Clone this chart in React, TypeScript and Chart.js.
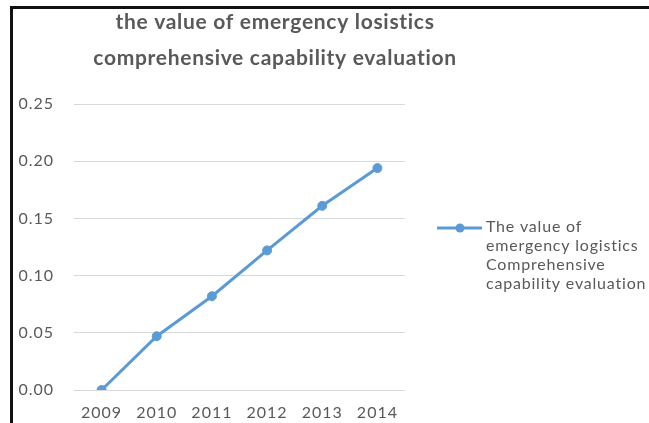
import React, { useEffect, useRef } from "react";
import { Chart, registerables } from "chart.js";

Chart.register(...registerables);

// ---- data ----
const years: string[] = ["2009", "2010", "2011", "2012", "2013", "2014"];
const values: number[] = [0.0, 0.047, 0.082, 0.122, 0.161, 0.194];
const yTickValues: number[] = [0, 0.05, 0.1, 0.15, 0.2, 0.25];
const titleLines: string[] = [
  "the value of emergency losistics",
  "comprehensive capability evaluation",
];
const legendLines: string[] = [
  "The value of",
  "emergency logistics",
  "Comprehensive",
  "capability evaluation",
];

const BLUE = "#5b9bd5";
const TEXT = "#595959";
const GRID = "#d9d9d9";
const FONT = "Lato, 'Open Sans', sans-serif";

const spacingPlugin = {
  id: "spacing",
  beforeDraw(chart: any) {
    (chart.ctx as any).letterSpacing = "1px";
  },
};

const decorPlugin = {
  id: "decor",
  afterDraw(chart: any) {
    const ctx = chart.ctx as any;
    ctx.save();
    // title
    ctx.fillStyle = TEXT;
    ctx.font = `bold 21px ${FONT}`;
    ctx.letterSpacing = "0.7px";
    ctx.textAlign = "center";
    ctx.textBaseline = "alphabetic";
    const titleX = 275;
    titleLines.forEach((t, i) => ctx.fillText(t, titleX, 29 + i * 36));

    // legend
    const ly = 228;
    ctx.strokeStyle = BLUE;
    ctx.lineWidth = 3;
    ctx.beginPath();
    ctx.moveTo(437, ly);
    ctx.lineTo(482, ly);
    ctx.stroke();
    ctx.fillStyle = BLUE;
    ctx.beginPath();
    ctx.arc(460, ly, 4.5, 0, Math.PI * 2);
    ctx.fill();

    ctx.fillStyle = TEXT;
    ctx.font = `16px ${FONT}`;
    ctx.letterSpacing = "0.8px";
    ctx.textAlign = "left";
    legendLines.forEach((t, i) => ctx.fillText(t, 486, 232 + i * 19));
    ctx.restore();
  },
};

export default function App() {
  const ref = useRef<HTMLCanvasElement | null>(null);

  useEffect(() => {
    if (!ref.current) return;
    const chart = new Chart(ref.current, {
      type: "line",
      data: {
        labels: years,
        datasets: [
          {
            label: legendLines.join(" "),
            data: values,
            borderColor: BLUE,
            backgroundColor: BLUE,
            borderWidth: 3,
            pointRadius: 4.5,
            pointBorderWidth: 1,
            pointBackgroundColor: BLUE,
            pointBorderColor: BLUE,
            tension: 0,
          },
        ],
      },
      options: {
        responsive: false,
        animation: false,
        layout: { padding: { left: 0, right: 244, top: 104, bottom: 0 } },
        plugins: {
          legend: { display: false },
          title: { display: false },
          tooltip: { enabled: false },
        },
        scales: {
          x: {
            offset: true,
            grid: { display: false, drawTicks: false },
            border: { display: false },
            ticks: {
              color: TEXT,
              font: { family: FONT, size: 16 },
              padding: 13,
              maxRotation: 0,
            },
            afterFit: (s: any) => {
              s.height = 33;
            },
          },
          y: {
            min: 0,
            max: 0.25,
            afterBuildTicks: (s: any) => {
              s.ticks = yTickValues.map((v) => ({ value: v }));
            },
            grid: { color: GRID, lineWidth: 1, drawTicks: false },
            border: { display: false },
            ticks: {
              color: TEXT,
              font: { family: FONT, size: 16 },
              padding: 20,
              callback: (v: any) => Number(v).toFixed(2),
            },
            afterFit: (s: any) => {
              s.width = 74;
            },
          },
        },
      },
      plugins: [spacingPlugin, decorPlugin],
    });
    return () => chart.destroy();
  }, []);

  return (
    <div
      style={{
        position: "fixed",
        left: 0,
        top: 0,
        width: 649,
        height: 423,
        background: "#fff",
        overflow: "hidden",
      }}
    >
      <div
        style={{
          position: "absolute",
          left: 10,
          top: 6,
          width: 700,
          height: 500,
          borderLeft: "3px solid #111",
          borderTop: "3px solid #111",
        }}
      />
      <canvas
        ref={ref}
        width={649}
        height={423}
        style={{ position: "absolute", left: 0, top: 0, width: 649, height: 423 }}
      />
    </div>
  );
}
